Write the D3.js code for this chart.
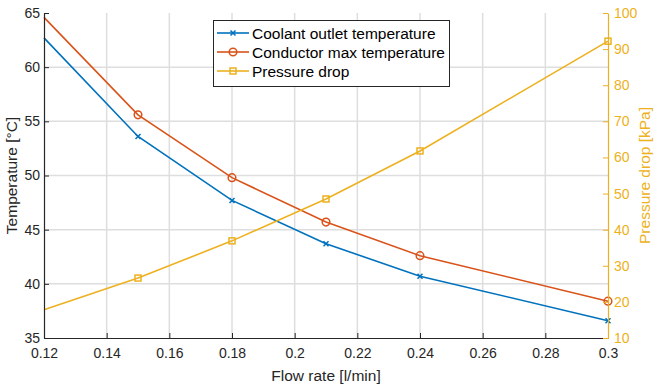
<!DOCTYPE html>
<html><head><meta charset="utf-8">
<script src="https://cdn.jsdelivr.net/npm/d3@7"></script>
<style>body{margin:0;background:#fff}svg{display:block;font-family:"Liberation Sans",Arial,sans-serif}</style>
</head><body><svg id="c" width="657" height="387"></svg>
<script>
const flowRate = [0.12, 0.15, 0.18, 0.21, 0.24, 0.30];
const coolantTemp = [62.7, 53.6, 47.7, 43.7, 40.7, 36.6];
const conductorTemp = [64.6, 55.6, 49.8, 45.7, 42.6, 38.4];
const pressureDrop = [17.8, 26.6, 36.9, 48.5, 61.8, 92.2];
const xTicks = [0.12,0.14,0.16,0.18,0.2,0.22,0.24,0.26,0.28,0.3];
const yLeftTicks = [35,40,45,50,55,60,65];
const yRightTicks = [10,20,30,40,50,60,70,80,90,100];
const seriesNames = ["Coolant outlet temperature","Conductor max temperature","Pressure drop"];

const svg = d3.select("#c");
const L=44,R=608,T=13,B=338;
const x = d3.scaleLinear().domain([0.12,0.3]).range([L,R]);
const yL = d3.scaleLinear().domain([35,65]).range([B,T]);
const yR = d3.scaleLinear().domain([10,100]).range([B,T]);
const cBlue="#0072BD", cOr="#D95319", cYel="#EDB120";

// grid
svg.append("g").selectAll("line").data(xTicks.slice(1,-1)).join("line")
  .attr("x1",d=>x(d)).attr("x2",d=>x(d)).attr("y1",T).attr("y2",B)
  .attr("stroke","#dedede").attr("stroke-width",1.5);
svg.append("g").selectAll("line").data(yLeftTicks.slice(1,-1)).join("line")
  .attr("x1",L).attr("x2",R).attr("y1",d=>yL(d)).attr("y2",d=>yL(d))
  .attr("stroke","#dedede").attr("stroke-width",1.5);

const clip = svg.append("g");
function series(vals, y, color, marker){
  const pts = flowRate.map((f,i)=>[x(f), y(vals[i])]);
  clip.append("path").attr("d", d3.line()(pts)).attr("fill","none")
    .attr("stroke",color).attr("stroke-width",1.6);
  const g = clip.append("g");
  pts.slice(1).forEach(p=>drawMarker(g,p[0],p[1],color,marker));
}
function drawMarker(g,cx,cy,color,marker){
  if(marker==="x"){
    const s=2.5;
    g.append("path").attr("d",`M${cx-s},${cy-s}L${cx+s},${cy+s}M${cx-s},${cy+s}L${cx+s},${cy-s}`)
      .attr("stroke",color).attr("stroke-width",1.5);
  } else if(marker==="o"){
    g.append("circle").attr("cx",cx).attr("cy",cy).attr("r",3.8)
      .attr("fill","none").attr("stroke",color).attr("stroke-width",1.5);
  } else {
    g.append("rect").attr("x",cx-3).attr("y",cy-3).attr("width",6).attr("height",6)
      .attr("fill","none").attr("stroke",color).attr("stroke-width",1.5);
  }
}
series(coolantTemp, yL, cBlue, "x");
series(conductorTemp, yL, cOr, "o");
series(pressureDrop, yR, cYel, "s");

// axes
const fs = "14px", lfs = "15.5px";
const ax = svg.append("g").attr("transform",`translate(0,${B})`)
  .call(d3.axisBottom(x).tickValues(xTicks).tickFormat(d=>d3.format("")(+d.toFixed(2))).tickSizeInner(-5).tickSizeOuter(0).tickPadding(10));
ax.select(".domain").attr("stroke","#262626").attr("stroke-width",1.2);
ax.selectAll(".tick line").attr("stroke","#262626");
ax.selectAll("text").attr("fill","#262626").style("font-size",fs);

const ayl = svg.append("g").attr("transform",`translate(${L},0)`)
  .call(d3.axisLeft(yL).tickValues(yLeftTicks).tickSizeInner(-5).tickSizeOuter(0).tickPadding(4));
ayl.select(".domain").attr("stroke","#262626").attr("stroke-width",1.2);
ayl.selectAll(".tick line").attr("stroke","#262626");
ayl.selectAll("text").attr("fill","#262626").style("font-size",fs);

const ayr = svg.append("g").attr("transform",`translate(${R},0)`)
  .call(d3.axisRight(yR).tickValues(yRightTicks).tickSizeInner(-5).tickSizeOuter(0).tickPadding(6));
ayr.select(".domain").attr("stroke",cYel).attr("stroke-width",1.2);
ayr.selectAll(".tick line").attr("stroke",cYel);
ayr.selectAll("text").attr("fill",cYel).style("font-size",fs);

// labels
svg.append("text").attr("x",(L+R)/2).attr("y",381).attr("text-anchor","middle")
  .style("font-size",lfs).attr("fill","#262626").text("Flow rate [l/min]");
svg.append("text").attr("transform",`translate(17,${(T+B)/2}) rotate(-90)`).attr("text-anchor","middle")
  .style("font-size",lfs).attr("fill","#262626").text("Temperature [°C]");
svg.append("text").attr("transform",`translate(650,${(T+B)/2}) rotate(-90)`).attr("text-anchor","middle")
  .style("font-size",lfs).attr("fill",cYel).text("Pressure drop [kPa]");

// legend
const lg = svg.append("g");
lg.append("rect").attr("x",213.5).attr("y",20.5).attr("width",236).attr("height",66)
  .attr("fill","#fff").attr("stroke","#262626").attr("stroke-width",1);
const colors=[cBlue,cOr,cYel], markers=["x","o","s"];
seriesNames.forEach((n,i)=>{
  const yy = 33+i*19;
  lg.append("line").attr("x1",217).attr("x2",249).attr("y1",yy).attr("y2",yy)
    .attr("stroke",colors[i]).attr("stroke-width",1.6);
  drawMarker(lg,233,yy,colors[i],markers[i]);
  lg.append("text").attr("x",252).attr("y",yy+5.5).style("font-size","15.5px").attr("fill","#000").text(n);
});
</script></body></html>
